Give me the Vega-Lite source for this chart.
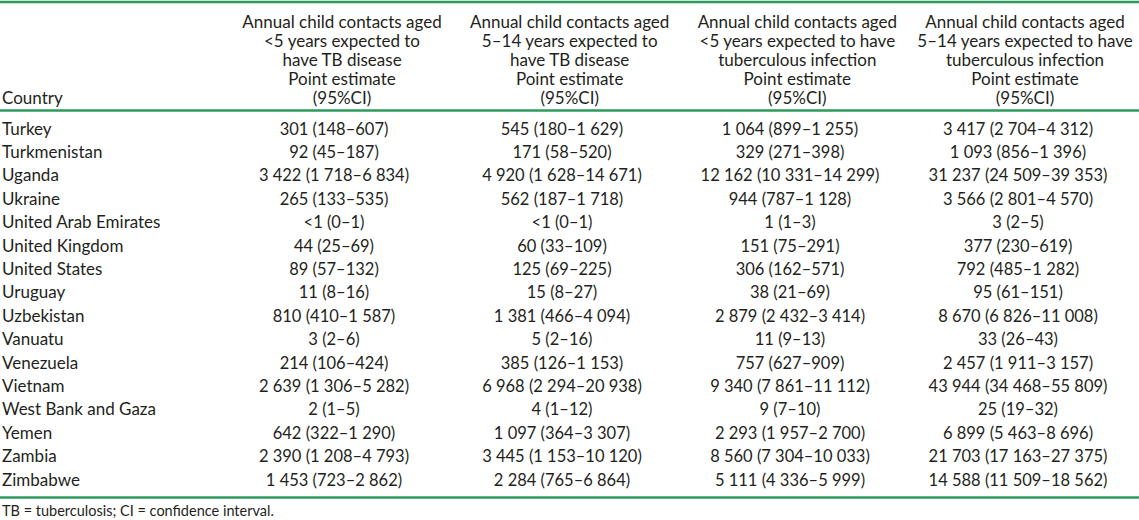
{
  "$schema": "https://vega.github.io/schema/vega-lite/v6.json",
  "width": 1139,
  "height": 520,
  "autosize": {"type": "none"},
  "padding": 0,
  "background": "white",
  "config": {
    "view": {"stroke": null},
    "text": {"font": "Lato", "fontSize": 17, "color": "#231f20"}
  },
  "datasets": {
    "rows": [
      {"country": "Turkey", "c1": "301 (148–607)", "c2": "545 (180–1 629)", "c3": "1 064 (899–1 255)", "c4": "3 417 (2 704–4 312)"},
      {"country": "Turkmenistan", "c1": "92 (45–187)", "c2": "171 (58–520)", "c3": "329 (271–398)", "c4": "1 093 (856–1 396)"},
      {"country": "Uganda", "c1": "3 422 (1 718–6 834)", "c2": "4 920 (1 628–14 671)", "c3": "12 162 (10 331–14 299)", "c4": "31 237 (24 509–39 353)"},
      {"country": "Ukraine", "c1": "265 (133–535)", "c2": "562 (187–1 718)", "c3": "944 (787–1 128)", "c4": "3 566 (2 801–4 570)"},
      {"country": "United Arab Emirates", "c1": "<1 (0–1)", "c2": "<1 (0–1)", "c3": "1 (1–3)", "c4": "3 (2–5)"},
      {"country": "United Kingdom", "c1": "44 (25–69)", "c2": "60 (33–109)", "c3": "151 (75–291)", "c4": "377 (230–619)"},
      {"country": "United States", "c1": "89 (57–132)", "c2": "125 (69–225)", "c3": "306 (162–571)", "c4": "792 (485–1 282)"},
      {"country": "Uruguay", "c1": "11 (8–16)", "c2": "15 (8–27)", "c3": "38 (21–69)", "c4": "95 (61–151)"},
      {"country": "Uzbekistan", "c1": "810 (410–1 587)", "c2": "1 381 (466–4 094)", "c3": "2 879 (2 432–3 414)", "c4": "8 670 (6 826–11 008)"},
      {"country": "Vanuatu", "c1": "3 (2–6)", "c2": "5 (2–16)", "c3": "11 (9–13)", "c4": "33 (26–43)"},
      {"country": "Venezuela", "c1": "214 (106–424)", "c2": "385 (126–1 153)", "c3": "757 (627–909)", "c4": "2 457 (1 911–3 157)"},
      {"country": "Vietnam", "c1": "2 639 (1 306–5 282)", "c2": "6 968 (2 294–20 938)", "c3": "9 340 (7 861–11 112)", "c4": "43 944 (34 468–55 809)"},
      {"country": "West Bank and Gaza", "c1": "2 (1–5)", "c2": "4 (1–12)", "c3": "9 (7–10)", "c4": "25 (19–32)"},
      {"country": "Yemen", "c1": "642 (322–1 290)", "c2": "1 097 (364–3 307)", "c3": "2 293 (1 957–2 700)", "c4": "6 899 (5 463–8 696)"},
      {"country": "Zambia", "c1": "2 390 (1 208–4 793)", "c2": "3 445 (1 153–10 120)", "c3": "8 560 (7 304–10 033)", "c4": "21 703 (17 163–27 375)"},
      {"country": "Zimbabwe", "c1": "1 453 (723–2 862)", "c2": "2 284 (765–6 864)", "c3": "5 111 (4 336–5 999)", "c4": "14 588 (11 509–18 562)"}
    ],
    "headers": [
      {"col": "c1", "h": "Annual child contacts aged\n<5 years expected to\nhave TB disease\nPoint estimate\n(95%CI)"},
      {"col": "c2", "h": "Annual child contacts aged\n5–14 years expected to\nhave TB disease\nPoint estimate\n(95%CI)"},
      {"col": "c3", "h": "Annual child contacts aged\n<5 years expected to have\ntuberculous infection\nPoint estimate\n(95%CI)"},
      {"col": "c4", "h": "Annual child contacts aged\n5–14 years expected to have\ntuberculous infection\nPoint estimate\n(95%CI)"}
    ],
    "labels": [{"label": "Country"}],
    "notes": [{"note": "TB = tuberculosis; CI = confidence interval."}],
    "lines": [{"line": "top"}]
  },
  "resolve": {"scale": {"x": "independent", "y": "independent"}},
  "layer": [
    {
      "data": {"name": "lines"},
      "mark": {"type": "rule", "color": "#2e9a5c", "strokeWidth": 2.4},
      "encoding": {"y": {"datum": 2, "type": "quantitative", "scale": {"domain": [0, 520], "range": [0, 520]}, "axis": null}}
    },
    {
      "data": {"name": "lines"},
      "mark": {"type": "rule", "color": "#2e9a5c", "strokeWidth": 2.4},
      "encoding": {"y": {"datum": 110.5, "type": "quantitative", "scale": {"domain": [0, 520], "range": [0, 520]}, "axis": null}}
    },
    {
      "data": {"name": "lines"},
      "mark": {"type": "rule", "color": "#2e9a5c", "strokeWidth": 2.4},
      "encoding": {"y": {"datum": 497.5, "type": "quantitative", "scale": {"domain": [0, 520], "range": [0, 520]}, "axis": null}}
    },
    {
      "data": {"name": "headers"},
      "mark": {"type": "text", "align": "center", "baseline": "top", "lineBreak": "\n", "lineHeight": 19},
      "encoding": {
        "x": {"field": "col", "type": "nominal", "scale": {"type": "point", "domain": ["c1", "c2", "c3", "c4"], "range": [342, 1025], "padding": 0}, "axis": null},
        "y": {"datum": 14.5, "type": "quantitative", "scale": {"domain": [0, 520], "range": [0, 520]}, "axis": null},
        "text": {"field": "h"}
      }
    },
    {
      "data": {"name": "labels"},
      "mark": {"type": "text", "align": "left", "baseline": "top"},
      "encoding": {
        "x": {"datum": 2, "type": "quantitative", "scale": {"domain": [0, 1139], "range": [0, 1139]}, "axis": null},
        "y": {"datum": 90.5, "type": "quantitative", "scale": {"domain": [0, 520], "range": [0, 520]}, "axis": null},
        "text": {"field": "label"}
      }
    },
    {
      "data": {"name": "rows"},
      "mark": {"type": "text", "align": "left", "baseline": "middle"},
      "encoding": {
        "x": {"datum": 2, "type": "quantitative", "scale": {"domain": [0, 1139], "range": [0, 1139]}, "axis": null},
        "y": {"field": "country", "type": "nominal", "sort": null, "scale": {"type": "point", "range": [129.5, 480.5], "padding": 0}, "axis": null},
        "text": {"field": "country"}
      }
    },
    {
      "data": {"name": "rows"},
      "transform": [{"fold": ["c1", "c2", "c3", "c4"], "as": ["col", "val"]}],
      "mark": {"type": "text", "align": "center", "baseline": "middle", "fontSize": 16.5},
      "encoding": {
        "x": {"field": "col", "type": "nominal", "scale": {"type": "point", "domain": ["c1", "c2", "c3", "c4"], "range": [334, 1018], "padding": 0}, "axis": null},
        "y": {"field": "country", "type": "nominal", "sort": null, "scale": {"type": "point", "range": [129.5, 480.5], "padding": 0}, "axis": null},
        "text": {"field": "val"}
      }
    },
    {
      "data": {"name": "notes"},
      "mark": {"type": "text", "align": "left", "baseline": "middle", "fontSize": 14.5},
      "encoding": {
        "x": {"datum": 2, "type": "quantitative", "scale": {"domain": [0, 1139], "range": [0, 1139]}, "axis": null},
        "y": {"datum": 512, "type": "quantitative", "scale": {"domain": [0, 520], "range": [0, 520]}, "axis": null},
        "text": {"field": "note"}
      }
    }
  ]
}
